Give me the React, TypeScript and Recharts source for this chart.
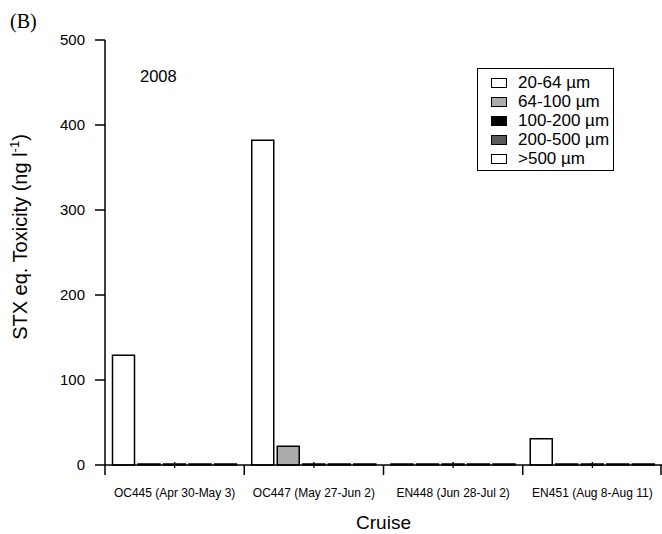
import React from "react";
import { BarChart, Bar, XAxis, YAxis } from "recharts";

const categories = [
  "OC445 (Apr 30-May 3)",
  "OC447 (May 27-Jun 2)",
  "EN448 (Jun 28-Jul 2)",
  "EN451 (Aug 8-Aug 11)",
];
const size20to64 = [129, 382, 0, 31];
const size64to100 = [0, 22, 0, 0];
const size100to200 = [0, 0, 0, 0];
const size200to500 = [0, 0, 0, 0];
const sizeOver500 = [0, 0, 0, 0];
const yTicks = [0, 100, 200, 300, 400, 500];

const seriesNames = ["20-64 µm", "64-100 µm", "100-200 µm", "200-500 µm", ">500 µm"];
const seriesKeys = ["s1", "s2", "s3", "s4", "s5"];
const seriesValues = [size20to64, size64to100, size100to200, size200to500, sizeOver500];
const seriesFills = ["#ffffff", "#ababab", "#000000", "#5a5a5a", "#ffffff"];

const data = categories.map((c, i) => {
  const row: any = { cruise: c };
  seriesKeys.forEach((k, j) => {
    row[k] = seriesValues[j][i];
  });
  return row;
});

const W = 662;
const H = 534;
const M = { top: 40, right: 0, bottom: 0, left: 0 };
const Y_AXIS_W = 105;
const X_AXIS_H = 69;
const PLOT_W = W - M.left - M.right - Y_AXIS_W;
const BAND = PLOT_W / categories.length;
const FONT = '"Liberation Sans", Arial, Helvetica, sans-serif';

const XTick = (props: any) => {
  const { x, y, payload, index } = props;
  const left = x - BAND / 2;
  return (
    <g>
      <line x1={x} x2={x} y1={y - 3} y2={y + 3} stroke="#000" strokeWidth={1.3} />
      <line x1={left} x2={left} y1={y} y2={y + 10} stroke="#000" strokeWidth={1.5} />
      {index === categories.length - 1 ? (
        <line x1={x + BAND / 2 - 1} x2={x + BAND / 2 - 1} y1={y} y2={y + 10} stroke="#000" strokeWidth={1.5} />
      ) : null}
      <text x={x} y={y + 32} textAnchor="middle" fontSize={12} fontFamily={FONT} fill="#000">
        {payload.value}
      </text>
    </g>
  );
};

const YLabel = () => (
  <text
    x={27}
    y={237}
    transform="rotate(-90, 27, 237)"
    textAnchor="middle"
    fontSize={20}
    fontFamily={FONT}
    fill="#000"
  >
    STX eq. Toxicity (ng l
    <tspan dy={-8} fontSize={13}>-1</tspan>
    <tspan dy={8}>)</tspan>
  </text>
);

const LegendBox = () => (
  <div
    style={{
      position: "absolute",
      left: 477,
      top: 68,
      border: "1.5px solid #000",
      background: "#fff",
      padding: "4px 0 1px 13px",
      boxSizing: "border-box",
      width: 137,
      height: 103,
      fontFamily: FONT,
      fontSize: 17,
      color: "#000",
    }}
  >
    {seriesNames.map((n, i) => (
      <div key={n} style={{ display: "flex", alignItems: "center", height: 19 }}>
        <div
          style={{
            width: 16,
            height: 10,
            background: seriesFills[i],
            border: "1.3px solid #000",
            boxSizing: "border-box",
            marginRight: 11,
          }}
        />
        <span style={{ whiteSpace: "nowrap", lineHeight: "19px" }}>{n}</span>
      </div>
    ))}
  </div>
);

export default function App() {
  return (
    <div style={{ position: "absolute", left: 0, top: 0, width: W, height: H, background: "#fff" }}>
      <BarChart
        width={W}
        height={H}
        data={data}
        margin={M}
        barCategoryGap={7.5}
        barGap={3.5}
      >
        <XAxis
          dataKey="cruise"
          axisLine={{ stroke: "#000", strokeWidth: 1.5 }}
          tickLine={false}
          tickSize={0}
          tickMargin={0}
          tick={<XTick />}
          interval={0}
          height={X_AXIS_H}
          label={{
            value: "Cruise",
            position: "insideBottom",
            offset: 5,
            fontSize: 19,
            fontFamily: FONT,
            fill: "#000",
          }}
        />
        <YAxis
          domain={[0, 500]}
          ticks={yTicks}
          width={Y_AXIS_W}
          tickSize={10}
          tickMargin={10}
          axisLine={{ stroke: "#000", strokeWidth: 1.5 }}
          tickLine={{ stroke: "#000", strokeWidth: 1.5 }}
          tick={{ fontSize: 15, fontFamily: FONT, fill: "#000" }}
          label={<YLabel />}
        />
        {seriesKeys.map((k, j) => (
          <Bar
            key={k}
            dataKey={k}
            name={seriesNames[j]}
            fill={seriesFills[j]}
            stroke="#000"
            strokeWidth={1.5}
            minPointSize={1}
            isAnimationActive={false}
          />
        ))}
        <text x={10} y={28} fontSize={20} fontFamily='"Liberation Serif", "Times New Roman", serif' fill="#000">
          (B)
        </text>
        <text x={140} y={82} fontSize={16.5} fontFamily={FONT} fill="#000">
          2008
        </text>
      </BarChart>
      <LegendBox />
    </div>
  );
}
